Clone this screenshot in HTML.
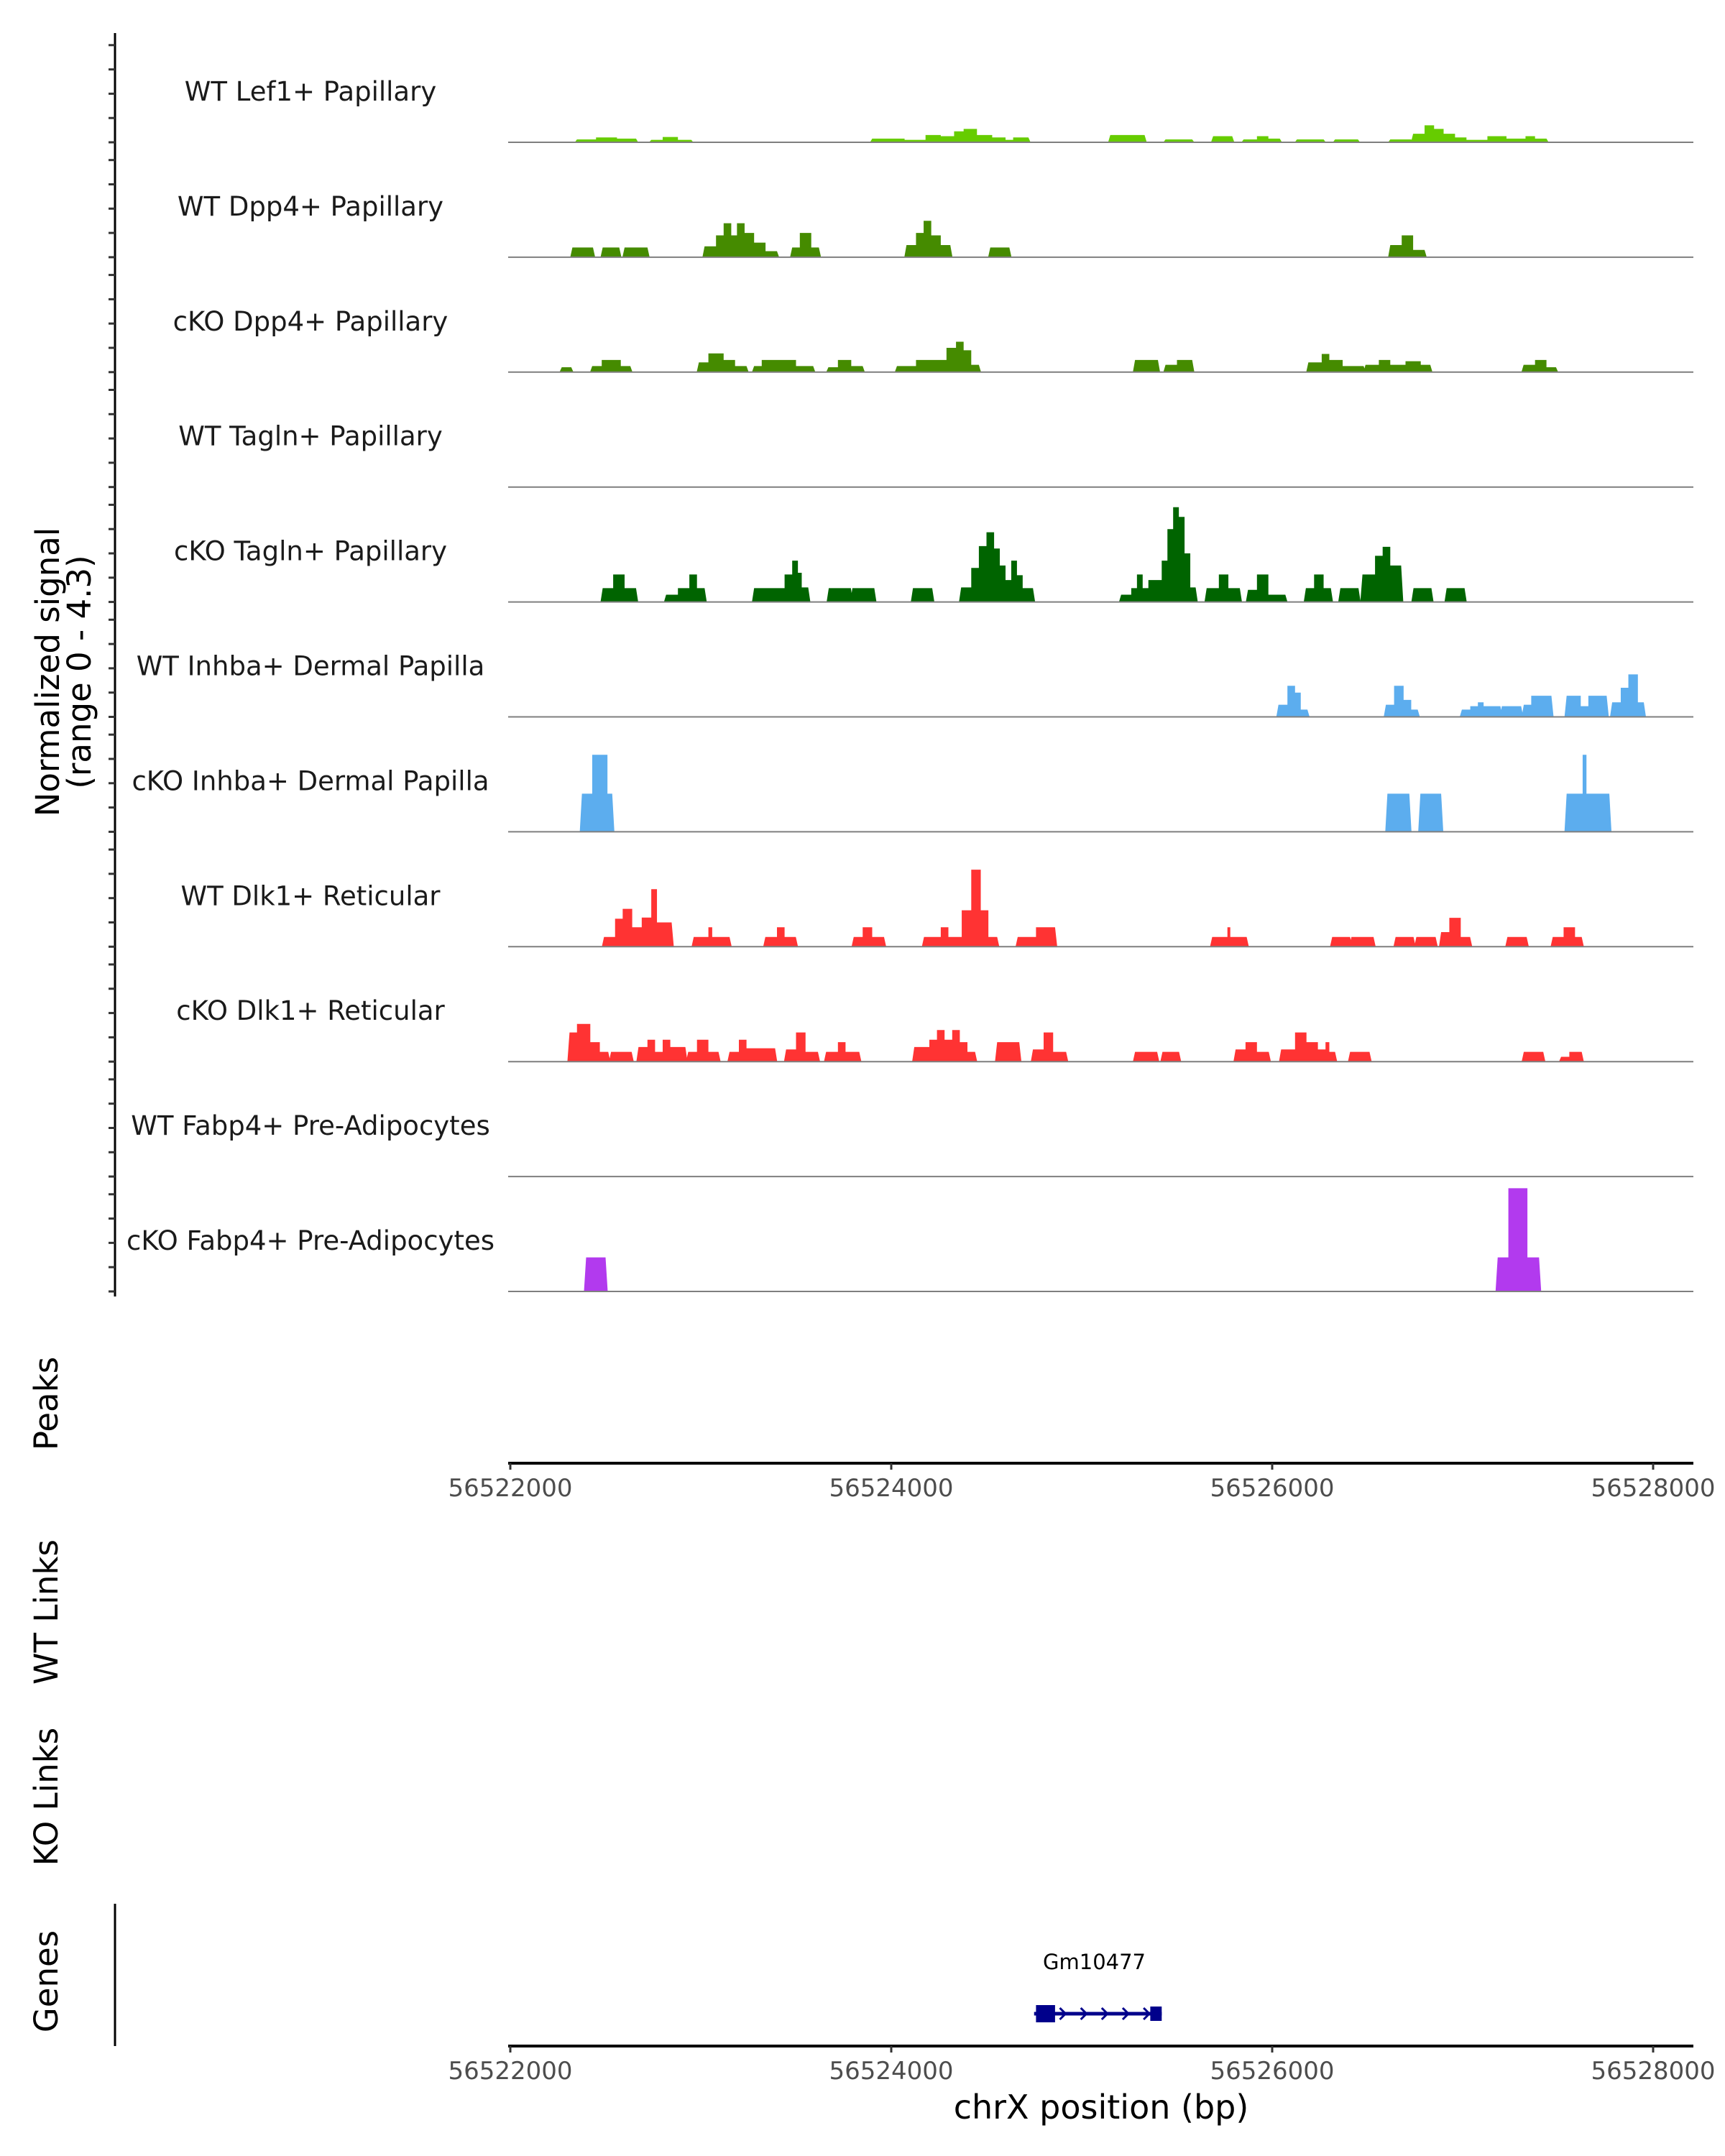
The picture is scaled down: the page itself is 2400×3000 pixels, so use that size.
<!DOCTYPE html>
<html><head><meta charset="utf-8">
<style>
html,body{margin:0;padding:0;background:#fff;}
svg{display:block;font-family:"DejaVu Sans","Liberation Sans",sans-serif;}
</style></head>
<body>
<svg id="chart" width="2400" height="3000" viewBox="0 0 2400 3000" xmlns="http://www.w3.org/2000/svg">
<rect width="2400" height="3000" fill="#fff"/>
<g id="tracks"></g>
<g id="axes"></g>
<text transform="translate(82,935) rotate(-90)" text-anchor="middle" font-size="45">Normalized signal</text>
<text transform="translate(126,935) rotate(-90)" text-anchor="middle" font-size="45">(range 0 - 4.3)</text>
<text transform="translate(80,1953) rotate(-90)" text-anchor="middle" font-size="45">Peaks</text>
<text transform="translate(80,2243) rotate(-90)" text-anchor="middle" font-size="45">WT Links</text>
<text transform="translate(80,2500) rotate(-90)" text-anchor="middle" font-size="45">KO Links</text>
<text transform="translate(80,2757) rotate(-90)" text-anchor="middle" font-size="45">Genes</text>
<line x1="160" y1="2649" x2="160" y2="2847" stroke="#000" stroke-width="3"/>
<text x="1532" y="2948" text-anchor="middle" font-size="46">chrX position (bp)</text>
<g id="gene"></g>
</svg>
<script>
const START = 56522000;
const trackNames = ["WT Lef1+ Papillary","WT Dpp4+ Papillary","cKO Dpp4+ Papillary","WT Tagln+ Papillary","cKO Tagln+ Papillary","WT Inhba+ Dermal Papilla","cKO Inhba+ Dermal Papilla","WT Dlk1+ Reticular","cKO Dlk1+ Reticular","WT Fabp4+ Pre-Adipocytes","cKO Fabp4+ Pre-Adipocytes"];
const trackColors = ["#66cc00","#458b00","#458b00","#006400","#006400","#5cadee","#5cadee","#ff3333","#ff3333","#b23aee","#b23aee"];
const xTicks = [56522000,56524000,56526000,56528000];
const yTicks = [0,1,2,3,4];
// bins: [startOffset, endOffset, value]
const lef1WT = [[350,450,0.12],[450,560,0.2],[560,660,0.15],[740,800,0.1],[800,880,0.22],[880,950,0.1],[1900,2070,0.15],[2070,2180,0.1],[2180,2260,0.3],[2260,2330,0.25],[2330,2380,0.45],[2380,2450,0.55],[2450,2530,0.3],[2530,2600,0.2],[2600,2640,0.1],[2640,2720,0.2],[3150,3330,0.3],[3440,3580,0.12],[3690,3790,0.25],[3850,3920,0.12],[3920,3980,0.25],[3980,4040,0.15],[4130,4270,0.12],[4330,4450,0.12],[4620,4730,0.12],[4740,4800,0.35],[4800,4850,0.7],[4850,4900,0.55],[4900,4960,0.35],[4960,5020,0.2],[5020,5130,0.1],[5130,5230,0.25],[5230,5330,0.15],[5330,5380,0.25],[5380,5440,0.15]];
const dpp4WT = [[326,434,0.4],[485,572,0.4],[600,720,0.4],[1020,1080,0.45],[1080,1120,0.9],[1120,1160,1.4],[1160,1190,0.9],[1190,1230,1.4],[1230,1280,1.0],[1280,1340,0.6],[1340,1400,0.25],[1480,1520,0.4],[1520,1580,1.0],[1580,1620,0.4],[2080,2130,0.5],[2130,2170,1.0],[2170,2210,1.5],[2210,2260,0.9],[2260,2310,0.5],[2520,2620,0.4],[4620,4680,0.5],[4680,4740,0.9],[4740,4800,0.3]];
const dpp4KO = [[270,320,0.2],[430,480,0.25],[480,580,0.5],[580,630,0.25],[990,1040,0.4],[1040,1120,0.77],[1120,1180,0.5],[1180,1240,0.25],[1280,1320,0.25],[1320,1500,0.5],[1500,1590,0.25],[1670,1720,0.2],[1720,1790,0.5],[1790,1850,0.25],[2030,2130,0.25],[2130,2200,0.5],[2200,2290,0.5],[2290,2340,1.0],[2340,2380,1.25],[2380,2420,0.9],[2420,2460,0.3],[3280,3400,0.5],[3440,3500,0.3],[3500,3580,0.5],[4190,4260,0.4],[4260,4300,0.75],[4300,4370,0.5],[4370,4480,0.25],[4490,4560,0.3],[4560,4620,0.5],[4620,4700,0.3],[4700,4780,0.45],[4780,4830,0.3],[5320,5380,0.3],[5380,5440,0.5],[5440,5490,0.2]];
const taglnWT = [];
const taglnKO = [[485,540,0.57],[540,600,1.13],[600,660,0.57],[818,880,0.3],[880,940,0.57],[940,980,1.13],[980,1020,0.57],[1280,1440,0.57],[1440,1480,1.13],[1480,1510,1.7],[1510,1530,1.2],[1530,1564,0.6],[1672,1788,0.57],[1796,1911,0.57],[2114,2215,0.57],[2367,2420,0.6],[2420,2460,1.4],[2460,2500,2.3],[2500,2540,2.87],[2540,2570,2.2],[2570,2600,1.5],[2600,2630,0.9],[2630,2660,1.7],[2660,2690,1.1],[2690,2744,0.57],[3207,3260,0.3],[3260,3290,0.57],[3290,3320,1.13],[3320,3350,0.57],[3350,3420,0.9],[3420,3450,1.7],[3450,3480,3.0],[3480,3510,3.9],[3510,3540,3.5],[3540,3570,2.0],[3570,3598,0.6],[3656,3720,0.57],[3720,3770,1.13],[3770,3830,0.57],[3873,3920,0.5],[3920,3980,1.13],[3980,4069,0.3],[4177,4220,0.57],[4220,4270,1.13],[4270,4308,0.57],[4358,4453,0.57],[4474,4540,1.13],[4540,4580,1.9],[4580,4620,2.27],[4620,4677,1.5],[4742,4836,0.57],[4916,5010,0.57]];
const inhbaWT = [[4033,4080,0.5],[4080,4120,1.28],[4120,4150,1.0],[4150,4185,0.3],[4597,4640,0.5],[4640,4690,1.28],[4690,4730,0.7],[4730,4764,0.3],[4996,5040,0.3],[5040,5080,0.44],[5080,5110,0.6],[5110,5198,0.44],[5206,5307,0.44],[5321,5360,0.5],[5360,5466,0.87],[5546,5620,0.87],[5620,5660,0.44],[5660,5756,0.87],[5785,5830,0.6],[5830,5870,1.2],[5870,5920,1.75],[5920,5951,0.6]];
const inhbaKO = [[376,430,1.57],[430,510,3.17],[510,535,1.57],[4605,4720,1.57],[4778,4887,1.57],[5546,5630,1.57],[5630,5650,3.17],[5650,5770,1.57]];
const dlk1WT = [[492,550,0.4],[550,590,1.15],[590,640,1.56],[640,690,0.8],[690,740,1.2],[740,770,2.37],[770,847,1.0],[963,1040,0.4],[1040,1060,0.8],[1060,1151,0.4],[1339,1400,0.4],[1400,1440,0.8],[1440,1499,0.4],[1803,1850,0.4],[1850,1900,0.8],[1900,1962,0.4],[2172,2260,0.4],[2260,2300,0.8],[2300,2370,0.4],[2370,2420,1.5],[2420,2470,3.17],[2470,2510,1.5],[2510,2556,0.4],[2664,2760,0.4],[2760,2860,0.8],[3685,3765,0.4],[3765,3780,0.8],[3780,3866,0.4],[4315,4409,0.4],[4416,4532,0.4],[4648,4742,0.4],[4757,4858,0.4],[4887,4930,0.6],[4930,4990,1.19],[4990,5039,0.4],[5235,5336,0.4],[5473,5530,0.4],[5530,5590,0.8],[5590,5625,0.4]];
const dlk1KO = [[311,350,1.2],[350,420,1.55],[420,470,0.8],[470,514,0.4],[529,637,0.4],[673,720,0.6],[720,760,0.9],[760,800,0.4],[800,840,0.9],[840,919,0.6],[934,980,0.4],[980,1040,0.9],[1040,1093,0.4],[1151,1200,0.4],[1200,1240,0.9],[1240,1390,0.55],[1448,1500,0.5],[1500,1550,1.2],[1550,1615,0.4],[1658,1720,0.4],[1720,1760,0.8],[1760,1832,0.4],[2121,2200,0.6],[2200,2240,0.9],[2240,2280,1.3],[2280,2320,0.9],[2320,2360,1.3],[2360,2400,0.8],[2400,2440,0.4],[2556,2672,0.8],[2744,2800,0.5],[2800,2850,1.2],[2850,2918,0.4],[3280,3396,0.4],[3424,3511,0.4],[3808,3860,0.5],[3860,3920,0.8],[3920,3982,0.4],[4047,4120,0.5],[4120,4180,1.2],[4180,4240,0.8],[4240,4280,0.5],[4280,4300,0.8],[4300,4330,0.4],[4409,4511,0.4],[5321,5423,0.4],[5517,5560,0.2],[5560,5625,0.4]];
const fabp4WT = [];
const fabp4KO = [[398,500,1.4],[5184,5240,1.4],[5240,5340,4.25],[5340,5401,1.4]];
const geneStart = 56524750, geneEnd = 56525420;
const geneExons = [[56524760,56524860],[56525360,56525420]];

const trackData = [lef1WT,dpp4WT,dpp4KO,taglnWT,taglnKO,inhbaWT,inhbaKO,dlk1WT,dlk1KO,fabp4WT,fabp4KO];
const NS = "http://www.w3.org/2000/svg";
const X0 = 710, X1 = 2300;
function xScale(bp){ return X0 + (bp - 56522000) / 6000 * (X1 - X0); }
function baseY(i){ return 198 + i * 159.9; }
const UNIT = 33.8;
function yScale(i, v){ return baseY(i) - Math.min(v, 4.3) * UNIT; }
function mk(tag, attrs, parent){ const e = document.createElementNS(NS, tag); for (const k in attrs) e.setAttribute(k, attrs[k]); parent.appendChild(e); return e; }

const tracksG = document.getElementById('tracks');
trackNames.forEach((name, i) => {
  const g = mk('g', {}, tracksG);
  
  
  const lbl = mk('text', {x: 432, y: baseY(i) - 58, 'text-anchor': 'middle', 'font-size': 37, fill: '#1a1a1a'}, g);
  lbl.textContent = name;
  
  
  const bins = trackData[i];
  let d = '';
  let prevEnd = null;
  bins.forEach((b, j) => {
    const x0 = xScale(START + b[0]), x1 = xScale(START + b[1]), y = yScale(i, b[2]);
    if (prevEnd === null || b[0] - prevEnd > 5) {
      if (prevEnd !== null) d += `L${xScale(START + prevEnd) + 3},${baseY(i)}Z`;
      d += `M${x0 - 3},${baseY(i)}L${x0},${y}`;
    } else {
      d += `L${x0},${y}`;
    }
    d += `L${x1},${y}`;
    prevEnd = b[1];
  });
  if (prevEnd !== null) d += `L${xScale(START + prevEnd) + 3},${baseY(i)}Z`;
  if (d) {
    const p = mk('path', {d: d, fill: trackColors[i]}, g);
    
    
  }
  const bl = mk('line', {x1: 707, x2: 2356, y1: baseY(i), y2: baseY(i), stroke: '#7f7f7f', 'stroke-width': 2}, g);
  
  
});

const axesG = document.getElementById('axes');
const yl = mk('line', {x1: 160, x2: 160, y1: 46, y2: 1804, stroke: '#000', 'stroke-width': 3}, axesG);


trackNames.forEach((n, i) => {
  yTicks.forEach(t => {
    const tk = mk('line', {x1: 151, x2: 160, y1: yScale(i, t), y2: yScale(i, t), stroke: '#333', 'stroke-width': 3}, axesG);
    
    
  });
});
[2036, 2847].forEach((ay, k) => {
  const ax = mk('line', {x1: 707, x2: 2356, y1: ay, y2: ay, stroke: '#000', 'stroke-width': 4}, axesG);
  
  
  xTicks.forEach(t => {
    const tk = mk('line', {x1: xScale(t), x2: xScale(t), y1: ay, y2: ay + 9, stroke: '#333', 'stroke-width': 3}, axesG);
    
    
    const tl = mk('text', {x: xScale(t), y: ay + 46, 'text-anchor': 'middle', 'font-size': 34, fill: '#4d4d4d'}, axesG);
    tl.textContent = String(t);
    
    
  });
});

const geneG = document.getElementById('gene');
const gy = 2802;
const gl = mk('line', {x1: xScale(geneStart), x2: xScale(geneEnd), y1: gy, y2: gy, stroke: '#00008b', 'stroke-width': 5}, geneG);


geneExons.forEach((e, k) => {
  const h = k === 0 ? 24 : 20;
  const r = mk('rect', {x: xScale(e[0]), y: gy - h / 2, width: xScale(e[1]) - xScale(e[0]), height: h, fill: '#00008b'}, geneG);
  
  
});
for (let p = geneStart + 150; p < geneEnd - 40; p += 110) {
  const ch = mk('path', {d: `M${xScale(p) - 4},${gy - 8}L${xScale(p) + 4},${gy}L${xScale(p) - 4},${gy + 8}`, fill: 'none', stroke: '#00008b', 'stroke-width': 3}, geneG);
  
  
}
const glbl = mk('text', {x: xScale((geneStart + geneEnd) / 2) - 5, y: 2740, 'text-anchor': 'middle', 'font-size': 29, fill: '#000'}, geneG);
glbl.textContent = 'Gm10477';


</script>
</body></html>
